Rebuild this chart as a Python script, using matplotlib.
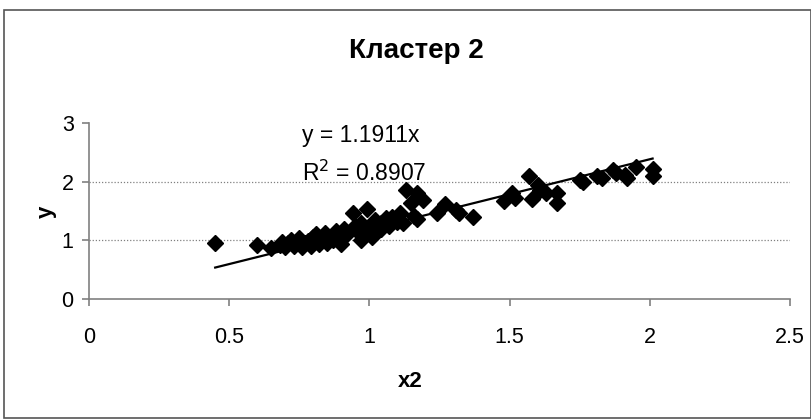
import matplotlib
matplotlib.use("Agg")
import matplotlib.pyplot as plt
from matplotlib.patches import Rectangle
import numpy as np

# данные кластера 2 (x2, y)
x2 = [0.45, 0.60, 0.65, 0.68, 0.69, 0.70, 0.71, 0.72, 0.73, 0.74,
      0.75, 0.76, 0.77, 0.78, 0.79, 0.80, 0.80, 0.81, 0.82, 0.83,
      0.84, 0.85, 0.86, 0.87, 0.88, 0.89, 0.90, 0.91, 0.92, 0.94,
      0.95, 0.96, 0.97, 0.97, 0.98, 0.99, 1.00, 1.01, 1.02, 1.04,
      1.04, 1.06, 1.07, 1.08, 1.10, 1.11, 1.12, 1.13, 1.15, 1.16,
      1.17, 1.17, 1.19, 1.24, 1.27, 1.31, 1.32, 1.37, 1.48, 1.51,
      1.52, 1.57, 1.58, 1.60, 1.61, 1.63, 1.67, 1.67, 1.75, 1.76,
      1.81, 1.83, 1.87, 1.88, 1.91, 1.92, 1.95, 2.01, 2.01]
y = [0.96, 0.92, 0.87, 0.92, 0.98, 0.88, 0.95, 1.00, 0.90, 0.97,
     1.04, 0.89, 0.95, 0.99, 0.91, 1.05, 0.97, 1.10, 0.93, 1.01,
     1.12, 0.96, 1.06, 1.00, 1.16, 1.08, 0.94, 1.20, 1.10, 1.46,
     1.25, 1.15, 1.00, 1.30, 1.10, 1.54, 1.20, 1.05, 1.35, 1.30,
     1.20, 1.38, 1.25, 1.40, 1.32, 1.46, 1.29, 1.85, 1.63, 1.42,
     1.80, 1.37, 1.68, 1.46, 1.62, 1.51, 1.46, 1.40, 1.67, 1.80,
     1.73, 2.10, 1.70, 1.95, 1.86, 1.80, 1.64, 1.80, 2.02, 1.99,
     2.10, 2.06, 2.20, 2.14, 2.12, 2.07, 2.25, 2.21, 2.09]

slope = 1.1911
r2 = 0.8907
xticks = [0, 0.5, 1, 1.5, 2, 2.5]
yticks = [0, 1, 2, 3]

plt.rcParams['font.family'] = ['Liberation Sans', 'DejaVu Sans']

fig = plt.figure(figsize=(8.12, 4.19), dpi=100)
fig.patches.append(Rectangle((4 / 812, 1 / 419), 807 / 812, 408 / 419,
                             transform=fig.transFigure, fill=False,
                             edgecolor='#555555', linewidth=1.2))

ax = fig.add_axes([89 / 812, 1 - 299 / 419, 701 / 812, 176 / 419])
ax.set_xlim(0, 2.5)
ax.set_ylim(0, 3)
ax.set_xticks(xticks)
ax.set_xticklabels(['0', '0.5', '1', '1.5', '2', '2.5'])
ax.set_yticks(yticks)

for yy in [1, 2]:
    ax.axhline(yy, color='#808080', linestyle=(0, (1, 1.5)), linewidth=0.9, zorder=1)

ax.plot(x2, y, linestyle='none', marker='D', markersize=8.3,
        color='black', zorder=3)

# линия тренда через начало координат
xt = np.array([min(x2), max(x2)])
ax.plot(xt, slope * xt, color='black', linewidth=1.6, zorder=2)

for side in ['top', 'right']:
    ax.spines[side].set_visible(False)
for side in ['left', 'bottom']:
    ax.spines[side].set_color('#808080')
    ax.spines[side].set_linewidth(1.2)
ax.tick_params(axis='both', colors='#808080', length=5, width=1.2,
               labelcolor='black', labelsize=15.5)
ax.tick_params(axis='x', pad=15)
ax.tick_params(axis='y', pad=6)

ax.text(0.76, 2.79, 'y = %.4fx' % slope, fontsize=16.5, ha='left', va='center')
ax.text(0.76, 2.15, 'R$^2$ = %.4f' % r2, fontsize=16.5, ha='left', va='center')

fig.text(416 / 812, 1 - 51 / 419, 'Кластер 2', fontsize=20,
         fontweight='bold', ha='center', va='center')
fig.text(410 / 812, 1 - 381 / 419, 'x2', fontsize=16,
         fontweight='bold', ha='center', va='center')
fig.text(46 / 812, 1 - 212 / 419, 'y', fontsize=16, fontweight='bold',
         ha='center', va='center', rotation=90)

fig.savefig('out.png', dpi=100)
